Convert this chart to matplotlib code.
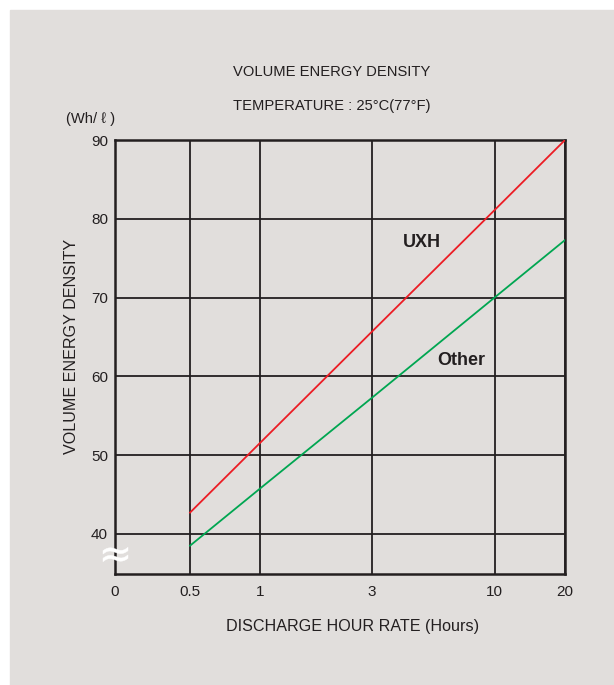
#!/usr/bin/env python3

"""Volume energy density vs discharge hour rate"""

import matplotlib
matplotlib.use("Agg")
import matplotlib.pyplot as plt

plt.rcParams['font.family'] = ['Liberation Sans', 'DejaVu Sans']

# data
hours = [0.5, 1, 3, 10, 20]
uxh = [42.7, 51.6, 65.7, 81.1, 90.0]
other = [38.5, 45.8, 57.3, 70.0, 77.3]
x_ticks = [0.5, 1, 3, 10, 20]
x_labels = ["0.5", "1", "3", "10", "20"]
y_ticks = [40, 50, 60, 70, 80, 90]

bg = "#e1dedc"
ink = "#231f20"

fig = plt.figure(figsize=(6.14, 6.85), dpi=100)
fig.patch.set_facecolor("white")
fig.patches.append(plt.Rectangle((10 / 614, 0), 1, 1 - 10 / 685,
                                 transform=fig.transFigure, color=bg, zorder=-10))

ax = fig.add_axes([0.1873, 0.1620, 0.7329, 0.6336])
ax.set_facecolor(bg)
ax.set_xscale("log")
xmin = 0.239
ax.set_xlim(xmin, 20)
ax.set_ylim(34.9, 90)

ax.plot(hours, uxh, color="#ec1c24", lw=1.3, zorder=3)
ax.plot(hours, other, color="#00a651", lw=1.3, zorder=3)

ax.set_xticks([xmin] + x_ticks)
ax.set_xticklabels(["0"] + x_labels)
ax.minorticks_off()
ax.set_yticks(y_ticks)
ax.tick_params(length=0, labelsize=11, colors=ink)
ax.tick_params(axis="x", pad=8)
ax.tick_params(axis="y", pad=5)
ax.grid(True, color=ink, lw=1.3)
ax.set_axisbelow(True)
for s in ax.spines.values():
    s.set_linewidth(1.8)
    s.set_color(ink)

ax.text(4.07, 77.0, "UXH", fontsize=13, fontweight="bold", color=ink,
        ha="left", va="center")
ax.text(5.7, 62.0, "Other", fontsize=13, fontweight="bold", color=ink,
        ha="left", va="center")

# axis break mark on the left spine
ax.plot([xmin], [37.4], marker=r"$\approx$", ms=18, color="white",
        mec="white", mew=0.3, clip_on=False, zorder=6, ls="none")

fig.text(332 / 614, 1 - 72 / 685, "VOLUME ENERGY DENSITY", fontsize=10.6,
         color=ink, ha="center", va="center")
fig.text(332 / 614, 1 - 106 / 685, "TEMPERATURE : 25°C(77°F)", fontsize=10.6,
         color=ink, ha="center", va="center")
fig.text(66 / 614, 1 - 119 / 685, "(Wh/ ℓ )", fontsize=10.6,
         color=ink, ha="left", va="center")
fig.text(71 / 614, 1 - 346 / 685, "VOLUME ENERGY DENSITY", fontsize=11.6,
         color=ink, ha="center", va="center", rotation=90)
fig.text(353 / 614, 1 - 626 / 685, "DISCHARGE HOUR RATE (Hours)", fontsize=11.6,
         color=ink, ha="center", va="center")

fig.savefig("out.png", dpi=100, facecolor=fig.get_facecolor())
plt.close(fig)
